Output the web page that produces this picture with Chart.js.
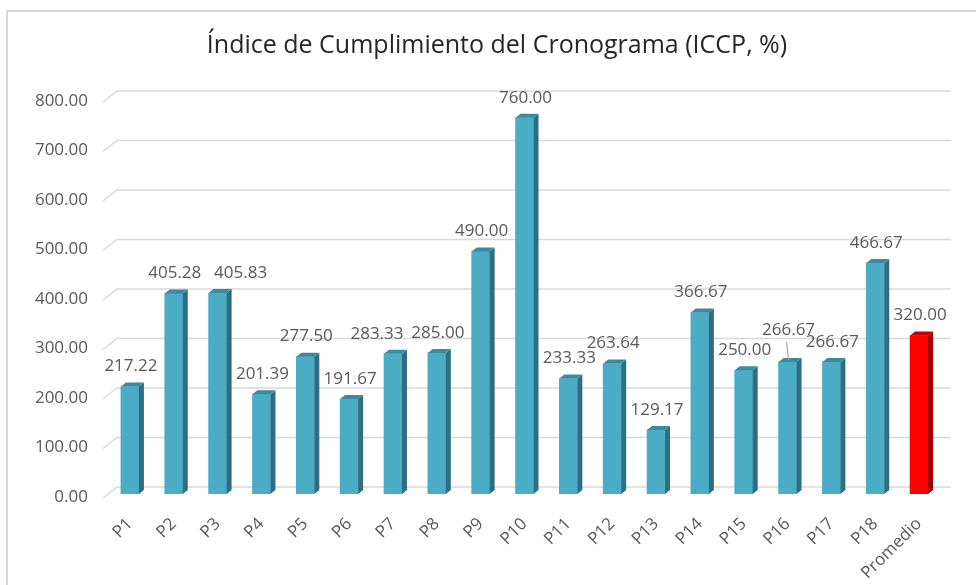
<!DOCTYPE html>
<html lang="es">
<head>
    <meta charset="UTF-8">
    <title>ICCP</title>
    <script src="https://cdn.jsdelivr.net/npm/chart.js"></script>
    <style>
        body { margin: 0; background: #ffffff; }
        #wrap { width: 976px; height: 585px; position: relative; }
    </style>
</head>
<body>
<div id="wrap"><canvas id="iccpChart" width="976" height="585"></canvas></div>
<script>
// datos
const titulo = 'Índice de Cumplimiento del Cronograma (ICCP, %)';
const categorias = ['P1','P2','P3','P4','P5','P6','P7','P8','P9','P10','P11','P12','P13','P14','P15','P16','P17','P18','Promedio'];
const valores = [217.22, 405.28, 405.83, 201.39, 277.50, 191.67, 283.33, 285.00, 490.00, 760.00, 233.33, 263.64, 129.17, 366.67, 250.00, 266.67, 266.67, 466.67, 320.00];
const ticksY = [0, 100, 200, 300, 400, 500, 600, 700, 800];

// colores (frente, lado, tapa)
const azul = ['#4bacc6', '#2f6e80', '#3b8aa0'];
const rojo = ['#ff0000', '#a00000', '#c00000'];
const colorDe = i => categorias[i] === 'Promedio' ? rojo : azul;

const FUENTE = '"Open Sans", "Noto Sans", sans-serif';
const DX = 5, DY = -4;               // profundidad 3D de las barras
const levantar = { 15: 12 };         // etiqueta P16 desplazada con linea guia
const correrX = { 2: 22, 6: -17 };   // etiquetas movidas a mano en el original

const efecto3D = {
    id: 'efecto3D',
    beforeDatasetsDraw(chart) {
        const ctx = chart.ctx;
        const y = chart.scales.y;
        const a = chart.chartArea;
        ctx.save();
        // marco del grafico
        ctx.strokeStyle = '#d9d9d9';
        ctx.lineWidth = 2;
        ctx.beginPath();
        ctx.moveTo(976, 11);
        ctx.lineTo(7, 11);
        ctx.lineTo(7, 585);
        ctx.stroke();
        // titulo centrado en todo el grafico
        ctx.fillStyle = '#262626';
        ctx.font = '25px ' + FUENTE;
        ctx.textAlign = 'center';
        ctx.textBaseline = 'middle';
        ctx.fillText(titulo, 497, 46);
        // lineas de division en la pared del fondo
        ctx.lineWidth = 1.5;
        ctx.strokeStyle = '#d9d9d9';
        ticksY.forEach(v => {
            const py = y.getPixelForValue(v);
            ctx.beginPath();
            ctx.moveTo(a.left - 5, py + 4);
            ctx.lineTo(a.left + 9, py - 7);
            ctx.lineTo(a.right + 10, py - 7);
            ctx.stroke();
        });
        ctx.restore();
    },
    afterDatasetsDraw(chart) {
        const ctx = chart.ctx;
        const meta = chart.getDatasetMeta(0);
        ctx.save();
        meta.data.forEach((bar, i) => {
            const c = colorDe(i);
            const l = bar.x - bar.width / 2, r = bar.x + bar.width / 2;
            const t = bar.y, b = bar.base;
            // lado
            ctx.fillStyle = c[1];
            ctx.beginPath();
            ctx.moveTo(r, t);
            ctx.lineTo(r + DX, t + DY);
            ctx.lineTo(r + DX, b + DY);
            ctx.lineTo(r, b);
            ctx.closePath();
            ctx.fill();
            // tapa
            ctx.fillStyle = c[2];
            ctx.beginPath();
            ctx.moveTo(l, t);
            ctx.lineTo(l + DX, t + DY);
            ctx.lineTo(r + DX, t + DY);
            ctx.lineTo(r, t);
            ctx.closePath();
            ctx.fill();
        });
        // etiquetas de datos
        ctx.fillStyle = '#595959';
        ctx.font = '17px ' + FUENTE;
        ctx.textAlign = 'center';
        ctx.textBaseline = 'middle';
        meta.data.forEach((bar, i) => {
            const extra = levantar[i] || 0;
            const ly = bar.y - 20 - extra;
            ctx.fillText(valores[i].toFixed(2), bar.x + 1 + (correrX[i] || 0), ly);
            if (extra) {
                ctx.strokeStyle = '#a6a6a6';
                ctx.lineWidth = 1.2;
                ctx.beginPath();
                ctx.moveTo(bar.x - 1, ly + 12);
                ctx.lineTo(bar.x + 1, bar.y - 2);
                ctx.stroke();
            }
        });
        ctx.restore();
    }
};

new Chart(document.getElementById('iccpChart'), {
    type: 'bar',
    data: {
        labels: categorias,
        datasets: [{
            data: valores,
            backgroundColor: categorias.map((c, i) => colorDe(i)[0]),
            barThickness: 18
        }]
    },
    options: {
        responsive: false,
        animation: false,
        layout: { padding: { left: 0, right: 35, top: 98, bottom: 0 } },
        plugins: {
            legend: { display: false },
            tooltip: { enabled: false },
            title: { display: false }
        },
        scales: {
            y: {
                min: 0,
                max: 800,
                afterFit(s) { s.width = 108; },
                grid: { display: false, drawTicks: false },
                border: { display: false },
                ticks: {
                    stepSize: 100,
                    padding: 20,
                    labelOffset: 3,
                    color: '#595959',
                    font: { family: FUENTE, size: 17 },
                    callback: v => v.toFixed(2)
                }
            },
            x: {
                afterFit(s) { s.height = 91; },
                grid: { display: false, drawTicks: false },
                border: { display: false },
                ticks: {
                    minRotation: 45,
                    maxRotation: 45,
                    padding: 20,
                    color: '#595959',
                    font: { family: FUENTE, size: 17 }
                }
            }
        }
    },
    plugins: [efecto3D]
});
</script>
</body>
</html>
